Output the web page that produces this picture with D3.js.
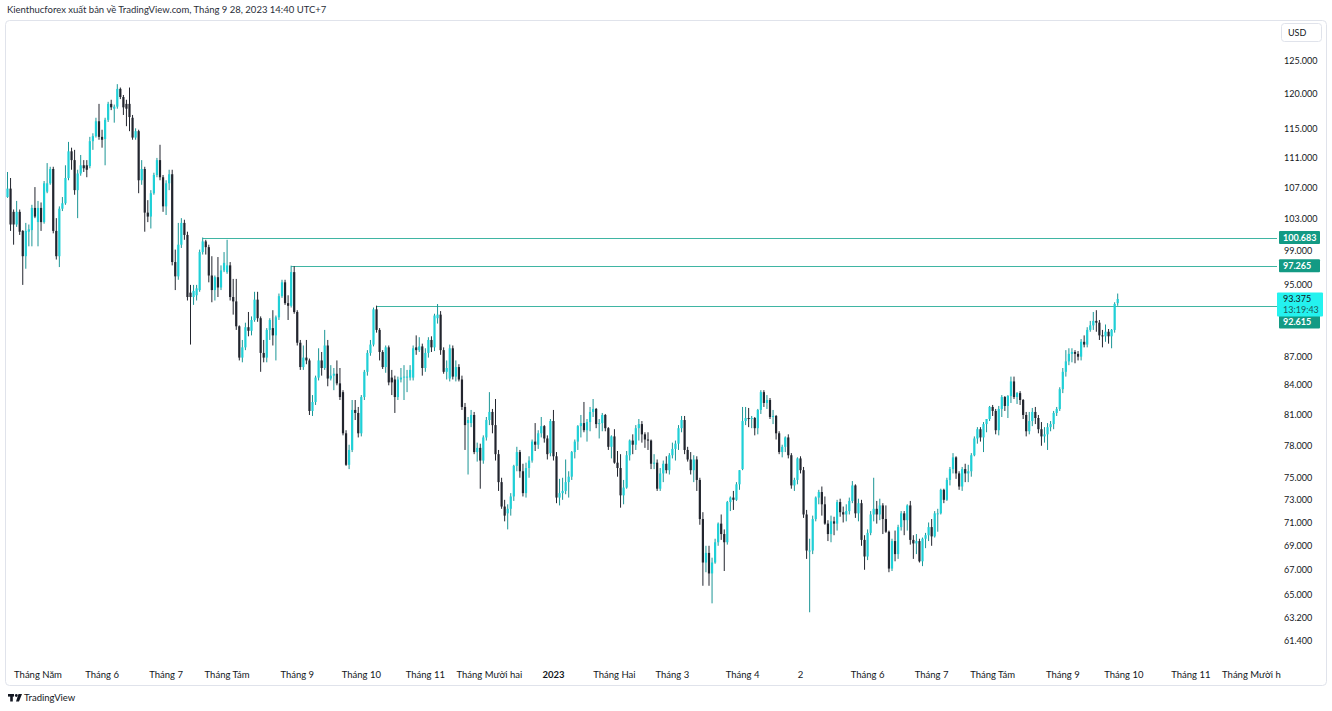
<!DOCTYPE html>
<html><head><meta charset="utf-8">
<script src="https://cdn.jsdelivr.net/npm/d3@7"></script>
<style>
html,body{margin:0;padding:0;background:#fff;}
svg{display:block;font-family:Lato,"Noto Sans",Roboto,sans-serif;}
</style></head>
<body>
<svg id="chart" width="1332" height="711"></svg>
<script>
// ---------- DATA ----------
const title = "Kienthucforex xuất bản về TradingView.com, Tháng 9 28, 2023 14:40 UTC+7";
const startDate = "2022-04-18";
const holidays = ["2022-05-30","2022-06-20","2022-07-04","2022-09-05","2022-11-24","2022-12-26",
  "2023-01-02","2023-01-16","2023-02-20","2023-04-07","2023-05-29","2023-06-19","2023-07-04",
  "2023-09-04","2023-11-23","2023-12-25"];
// daily candles [open, high, low, close]
const candles = [
 // 2022 Apr
 [105.8,109.1,105.7,106.9],[106.9,108.3,101.5,102.3],[103.9,104.2,99.8,102.3],[102.3,105.3,102.0,103.9],
 [103.9,104.2,101.0,101.4],[101.5,101.6,95.0,98.4],[98.4,102.5,96.9,101.5],[101.4,102.3,99.6,101.7],
 [101.6,104.8,99.6,104.4],[104.4,107.1,103.1,103.3],
 // May
 [102.6,105.3,99.6,104.4],[104.4,105.1,101.5,102.6],[102.6,107.9,102.4,107.6],[106.5,110.3,106.3,107.6],
 [107.6,109.8,107.4,109.5],[109.5,109.8,101.2,101.5],[101.5,103.1,98.0,98.4],[98.4,104.6,97.1,104.3],
 [104.3,105.8,104.0,105.0],[105.0,110.0,104.8,108.3],[108.3,113.2,108.0,111.9],[111.9,112.4,109.4,110.7],
 [110.7,112.1,106.1,106.7],[106.7,109.4,103.1,108.9],[108.9,111.4,108.6,110.0],[110.0,110.7,109.1,109.6],
 [110.0,110.7,108.4,109.4],[109.9,113.9,109.6,113.3],[113.3,114.4,112.1,114.0],[114.0,116.6,113.8,116.1],
 [116.1,118.6,113.5,113.9],
 // Jun
 [113.9,114.9,112.4,113.5],[113.6,116.6,110.0,116.3],[116.3,118.9,116.0,118.6],[118.6,119.2,117.7,118.1],
 [117.9,118.5,115.9,118.2],[118.2,121.5,117.9,120.8],[120.8,121.0,119.3,119.6],[119.6,119.9,117.0,118.1],
 [118.6,119.2,115.4,117.9],[118.6,121.0,114.7,116.7],[116.6,117.0,113.5,113.8],[113.8,115.1,113.5,114.7],
 [114.7,114.9,106.3,108.0],[108.0,110.7,107.4,109.5],[109.5,109.8,101.4,103.8],[103.8,105.4,102.6,103.3],
 [103.3,106.7,101.8,106.3],[106.3,109.0,106.1,108.7],[108.7,111.0,108.4,110.7],[110.7,112.8,108.0,108.4],
 [108.4,108.7,103.9,104.6],
 // Jul
 [104.6,108.0,103.5,107.6],[107.6,109.4,106.7,108.8],[108.8,109.4,97.3,97.7],[97.7,99.2,94.4,96.0],
 [96.0,102.5,95.6,99.8],[99.8,103.1,99.4,102.5],[102.5,102.9,100.4,101.0],[101.0,101.4,93.2,93.6],
 [94.1,95.0,88.3,93.6],[93.6,95.0,92.7,94.3],[93.8,95.0,93.2,94.6],[94.4,99.2,94.2,98.9],
 [98.9,100.683,98.6,100.2],[100.2,100.4,98.6,99.5],[99.5,99.8,95.3,96.1],[96.1,98.4,93.0,94.4],
 [94.4,96.1,93.2,95.9],[95.9,98.3,93.6,94.7],[94.7,97.3,94.4,96.7],[96.7,98.9,96.5,97.6],
 // Aug
 [96.5,100.4,96.3,97.3],[97.3,97.7,93.2,93.6],[93.6,95.7,91.6,93.1],[93.1,95.7,89.9,90.3],
 [90.3,90.4,86.6,86.9],[86.9,88.8,86.4,88.0],[88.0,90.7,87.7,90.2],[90.2,91.9,89.2,89.8],
 [89.8,91.4,89.3,91.0],[91.0,94.2,90.8,93.3],[93.3,94.2,90.8,91.2],[91.2,91.4,85.4,87.4],
 [87.4,88.8,86.4,86.9],[86.9,90.1,86.4,89.9],[89.9,91.2,88.8,91.0],[90.1,92.1,88.2,89.3],
 [89.3,91.5,86.6,91.3],[91.3,94.0,91.0,93.7],[93.7,95.6,93.5,95.3],[95.3,95.6,92.7,92.9],
 [92.9,93.8,91.0,92.6],[92.6,97.265,92.4,96.5],[96.5,97.2,91.7,91.9],
 // Sep
 [91.9,92.1,88.2,88.5],[88.5,88.8,85.6,85.9],[85.9,88.2,85.6,86.9],[86.9,88.8,86.2,86.6],
 [86.6,86.8,81.0,81.4],[81.4,83.0,80.9,82.3],[82.3,85.0,82.0,84.8],[84.8,87.9,84.5,86.6],
 [86.6,87.5,85.0,85.8],[85.8,89.9,85.6,88.2],[88.2,88.8,83.9,84.7],[84.7,86.1,84.5,85.0],
 [85.0,85.8,83.5,85.2],[85.2,86.6,84.0,84.2],[84.2,85.8,82.5,82.8],[83.3,83.5,79.0,79.2],
 [79.2,79.5,76.1,76.2],[76.2,78.1,75.8,77.6],[77.6,82.5,77.4,81.5],[81.5,82.5,80.5,81.2],
 [81.2,81.8,78.8,79.2],
 // Oct
 [79.2,83.0,78.9,82.8],[82.8,85.6,82.5,85.4],[85.4,87.7,85.0,87.4],[87.4,88.8,87.1,88.3],
 [88.3,92.4,88.1,92.2],[92.2,92.615,89.6,89.9],[89.9,90.1,86.6,87.5],[87.5,87.7,85.7,85.9],
 [85.9,88.2,85.3,88.0],[88.0,88.2,84.0,84.3],[84.8,85.6,83.0,84.3],[84.6,85.0,81.2,82.8],
 [82.8,84.9,82.5,84.6],[84.6,85.8,84.3,84.8],[84.8,86.1,82.5,84.9],[84.8,85.6,83.3,84.9],
 [84.8,86.1,84.5,85.6],[84.8,88.2,84.5,87.9],[88.0,89.3,87.2,87.7],[87.7,89.1,87.5,88.1],
 [88.1,88.4,85.0,85.8],
 // Nov
 [85.8,87.9,85.4,87.4],[87.4,89.1,86.9,88.8],[88.8,89.2,87.5,88.0],[88.0,91.7,87.6,91.5],
 [91.2,92.8,90.6,91.6],[91.6,92.0,87.2,87.7],[87.7,88.0,85.2,85.4],[85.4,86.6,84.6,85.8],
 [84.7,88.3,84.4,87.9],[87.9,88.2,84.6,84.9],[84.9,86.6,84.4,85.9],[85.9,86.2,84.4,84.6],
 [84.6,85.0,81.5,81.8],[81.8,82.2,77.6,80.0],[80.2,80.8,75.3,80.5],[80.2,81.5,79.8,81.0],
 [81.0,81.3,77.2,77.4],[77.4,78.3,76.5,77.8],[77.8,78.2,74.0,76.6],[76.6,79.0,76.3,78.8],
 [78.8,80.8,78.5,80.5],
 // Dec
 [80.5,83.3,80.0,81.3],[81.3,81.6,79.2,80.0],[80.0,82.6,76.6,77.2],[77.2,77.6,73.8,74.6],
 [74.6,75.0,72.2,72.4],[72.4,73.0,71.1,71.6],[71.8,72.6,70.4,72.2],[72.2,73.6,71.6,73.3],
 [73.3,76.2,72.9,76.1],[76.1,77.9,75.6,77.4],[77.4,77.6,75.0,75.6],[75.6,76.3,73.3,73.6],
 [73.6,76.4,73.2,75.9],[75.9,77.0,75.0,76.6],[76.6,78.6,76.4,78.4],[78.4,80.2,77.5,78.1],
 [78.1,79.5,77.7,79.2],[79.2,80.8,78.8,79.9],[79.9,80.0,78.3,78.7],[78.7,79.0,76.7,77.2],
 [77.3,80.6,77.0,80.4],
 // 2023 Jan
 [80.4,81.5,76.6,77.0],[77.0,77.4,72.7,73.2],[73.2,74.9,72.5,73.6],[73.6,75.0,73.0,73.8],
 [73.8,76.7,73.5,74.6],[74.6,75.6,73.2,75.1],[75.1,77.5,74.8,77.4],[77.4,78.6,76.8,78.4],
 [78.4,80.0,77.6,79.9],[79.9,81.0,78.8,80.2],[80.2,82.3,79.3,79.5],[79.5,80.6,78.4,80.3],
 [80.3,81.8,79.4,81.3],[81.3,82.6,80.8,81.6],[81.6,81.7,79.7,80.1],[80.1,80.6,78.7,80.2],
 [80.2,81.2,79.4,81.0],[81.0,81.1,79.4,79.7],[79.7,79.8,77.6,77.9],[77.9,79.0,76.8,78.9],
 // Feb
 [78.9,79.6,76.3,76.4],[76.4,77.5,75.1,75.9],[75.9,77.2,72.3,73.4],[73.4,74.8,72.6,74.1],
 [74.1,77.5,74.0,77.1],[77.1,78.6,76.6,78.5],[78.5,79.1,77.2,78.1],[78.1,80.0,77.6,79.7],
 [79.7,80.6,78.5,80.1],[80.1,80.4,78.3,79.1],[79.1,79.3,77.8,78.6],[78.6,79.3,77.6,78.5],
 [78.5,78.6,75.8,76.3],[76.3,77.2,75.8,76.4],[76.4,76.7,73.8,74.0],[74.0,75.9,73.8,75.4],
 [75.4,76.6,74.6,76.3],[76.3,77.0,75.4,75.7],[75.7,77.3,75.3,77.1],
 // Mar
 [77.1,78.3,76.8,77.7],[77.7,78.5,76.6,78.2],[78.2,80.0,77.6,79.7],[79.7,80.9,79.3,80.5],
 [80.5,80.9,77.2,77.6],[77.6,77.9,76.5,76.7],[76.7,77.4,75.3,75.7],[75.7,77.1,74.6,76.7],
 [76.7,77.0,73.8,74.8],[74.8,75.0,70.8,71.3],[71.3,71.9,65.7,67.6],[67.6,69.0,66.8,68.4],
 [68.4,69.0,65.7,66.7],[66.7,68.0,64.3,67.6],[67.6,69.6,67.5,69.3],[69.3,71.0,69.0,70.9],
 [70.9,71.7,69.5,70.0],[70.0,70.4,66.9,69.3],[69.3,72.9,69.1,72.8],[72.8,73.3,72.0,73.2],
 [73.2,73.8,72.1,73.0],[73.0,74.6,72.9,74.4],[74.4,75.7,73.9,75.7],
 // Apr
 [75.8,81.8,75.7,80.4],[80.4,81.8,80.0,80.7],[80.7,81.7,79.8,80.6],[80.6,80.9,79.7,80.7],
 [80.7,80.8,79.0,79.7],[79.7,81.6,79.1,81.5],[81.5,83.5,81.1,83.3],[83.3,83.5,81.8,82.2],
 [82.2,83.0,81.6,82.5],[82.5,82.7,80.6,80.8],[80.8,81.5,80.1,80.9],[80.9,81.0,78.6,79.2],
 [79.2,79.4,77.2,77.4],[77.4,78.1,76.9,77.9],[77.9,78.9,77.4,78.8],[78.8,79.1,76.8,77.1],
 [77.1,77.3,74.0,74.3],[74.3,75.0,73.8,74.8],[74.8,76.9,74.4,76.8],
 // May
 [76.8,77.0,75.4,75.7],[75.7,76.0,71.4,71.7],[71.7,72.1,67.9,68.6],[68.6,69.6,63.6,68.6],
 [68.6,71.6,68.3,71.3],[71.3,73.3,71.1,73.2],[73.2,73.9,72.6,73.7],[73.7,74.2,71.6,72.6],
 [72.6,73.3,70.8,70.9],[70.9,71.2,69.4,70.0],[70.0,71.6,69.3,71.1],[71.1,71.5,69.9,70.9],
 [70.9,73.0,70.3,72.8],[72.8,73.1,71.5,71.9],[71.9,72.4,71.0,71.7],[71.7,72.6,71.1,72.0],
 [72.0,73.2,71.7,72.9],[72.9,74.7,72.7,74.3],[74.3,74.4,71.4,71.8],[71.8,73.1,71.1,72.7],
 [72.7,73.0,69.0,69.5],[69.5,69.9,67.0,68.1],
 // Jun
 [68.1,70.4,67.8,70.1],[70.1,72.0,69.9,71.7],[71.7,75.0,71.1,72.2],[72.2,72.9,70.9,71.7],
 [71.7,73.1,71.2,72.5],[72.5,72.7,70.0,71.3],[71.3,72.5,70.1,70.2],[70.2,70.3,66.8,67.1],
 [67.1,69.6,66.9,69.4],[69.4,70.3,67.7,68.3],[68.3,70.8,67.9,70.6],[70.6,72.0,70.3,71.8],
 [71.8,72.0,69.9,71.2],[71.2,72.6,70.3,72.5],[72.5,72.9,69.1,69.5],[69.5,69.9,67.9,69.2],
 [69.2,70.0,68.3,69.4],[69.4,69.6,67.6,67.7],[67.7,69.7,67.3,69.6],[69.6,70.1,68.8,69.9],
 [69.9,71.0,69.4,70.6],
 // Jul
 [70.6,71.3,69.0,69.8],[69.8,72.0,69.7,71.8],[71.8,72.2,70.2,71.8],[71.8,74.0,71.7,73.9],
 [73.9,74.0,72.7,73.0],[73.0,75.0,72.9,74.8],[74.8,76.0,74.3,75.8],[75.8,77.3,75.4,76.9],
 [76.9,77.0,74.9,75.4],[75.4,75.6,73.9,74.2],[74.2,76.0,73.8,75.8],[75.8,76.3,74.6,75.4],
 [75.4,76.2,74.6,75.6],[75.6,77.3,75.1,77.1],[77.1,78.9,77.0,78.7],[78.7,79.8,78.2,79.6],
 [79.6,79.8,78.4,78.8],[78.8,80.3,77.4,80.1],[80.1,80.6,79.3,80.6],[80.6,81.9,80.4,81.8],
 // Aug
 [81.8,82.0,80.9,81.4],[81.4,81.6,79.1,79.5],[79.5,81.9,79.0,81.6],[81.6,83.0,80.8,82.8],
 [82.8,82.9,81.4,81.9],[81.9,83.0,80.7,82.9],[82.9,84.9,82.2,84.4],[84.4,84.9,82.6,82.8],
 [82.8,83.3,82.1,83.2],[83.2,83.4,82.0,82.5],[82.5,82.6,80.6,81.0],[81.0,81.3,78.9,79.4],
 [79.4,81.3,79.1,80.4],[80.4,81.7,79.9,81.3],[81.3,81.8,80.1,80.7],[80.7,81.0,79.2,79.6],
 [79.6,80.3,78.0,78.9],[78.9,79.8,78.3,79.1],[79.1,80.2,77.6,79.8],[79.8,80.4,79.4,80.1],
 [80.1,81.4,79.6,81.2],[81.2,81.8,80.9,81.6],[81.6,83.8,81.4,83.6],
 // Sep
 [83.6,85.8,83.2,85.4],[85.4,87.7,84.9,86.5],[86.5,87.9,86.1,87.3],[87.3,87.9,86.4,87.5],
 [87.5,87.7,86.3,87.3],[87.3,87.6,86.6,87.0],[87.0,88.9,86.6,88.6],[88.6,89.3,88.0,88.3],
 [88.3,90.2,88.0,89.9],[89.9,90.9,89.7,90.4],[90.4,91.9,89.9,90.9],[90.9,92.1,89.7,90.7],
 [90.7,91.0,88.8,89.3],[89.3,89.9,88.0,89.2],[89.2,90.5,88.6,89.7],[89.7,90.0,88.4,89.2],
 [89.2,90.0,87.9,89.9],[89.9,93.0,89.6,92.8],[92.9,94.0,92.6,93.375]
];
const monthLabels = ["Tháng Năm","Tháng 6","Tháng 7","Tháng Tám","Tháng 9","Tháng 10","Tháng 11",
  "Tháng Mười hai","2023","Tháng Hai","Tháng 3","Tháng 4","2","Tháng 6","Tháng 7","Tháng Tám",
  "Tháng 9","Tháng 10","Tháng 11","Tháng Mười hai"];
const boldLabels = ["2023"];
const priceTicks = [125,120,115,111,107,103,99,95,87,84,81,78,75,73,71,69,67,65,63.2,61.4];
const levelValues = [100.683, 97.265, 92.615];
const levelStarts = ["2022-07-20","2022-08-30","2022-10-10"];
const lastPrice = 93.375;
const countdown = "13:19:43";
const currency = "USD";

// ---------- CALENDAR ----------
const fmt = d3.utcFormat("%Y-%m-%d");
const hol = new Set(holidays);
const days = [];
for (let d = new Date(startDate + "T00:00:00Z"); days.length < 440; d = d3.utcDay.offset(d, 1)) {
  const wd = d.getUTCDay();
  if (wd === 0 || wd === 6 || hol.has(fmt(d))) continue;
  days.push(new Date(d));
}
const idxOf = s => days.findIndex(d => fmt(d) === s);

// ---------- LAYOUT ----------
const W = 1332, H = 711;
const plotL = 5, plotR = 1277, plotT = 21, plotB = 660;
const svg = d3.select("#chart");
const x = d3.scaleLinear().domain([0, 1]).range([7.5, 10.55]);
const y = d3.scaleLog().domain([61.4, 125]).range([641, 61]);

svg.append("rect").attr("width", W).attr("height", H).attr("fill", "#fff");
svg.append("text").attr("x", 7).attr("y", 13).attr("font-size", 9.5).attr("fill", "#2a2e39").text(title);
svg.append("rect").attr("x", 5.5).attr("y", 20.5).attr("width", 1321).attr("height", 665)
  .attr("rx", 4).attr("fill", "none").attr("stroke", "#e0e3eb");

const defs = svg.append("defs");
defs.append("clipPath").attr("id", "plotclip").append("rect")
  .attr("x", plotL + 1).attr("y", plotT).attr("width", plotR - plotL - 1).attr("height", plotB - plotT);
defs.append("clipPath").attr("id", "axisclip").append("rect")
  .attr("x", plotL + 1).attr("y", 660).attr("width", plotR - plotL + 3).attr("height", 25);

const plot = svg.append("g").attr("clip-path", "url(#plotclip)");

// level lines
levelValues.forEach((v, k) => {
  const yy = Math.round(y(v)) + 0.5;
  plot.append("line").attr("x1", x(idxOf(levelStarts[k]))).attr("x2", plotR)
    .attr("y1", yy).attr("y2", yy).attr("stroke", "#3fb5a3").attr("stroke-width", 1);
});

// candles
const upBody = "#1fd0d7", upWick = "#1b9696", dnBody = "#22252e", dnWick = "#22252e";
const g = plot.append("g");
candles.forEach((c, i) => {
  const [o, h, l, cl] = c, up = cl >= o, cx = x(i);
  g.append("line").attr("x1", cx).attr("x2", cx).attr("y1", y(h)).attr("y2", y(l))
    .attr("stroke", up ? upWick : dnWick).attr("stroke-width", 1);
  const yt = y(Math.max(o, cl)), yb = y(Math.min(o, cl));
  g.append("rect").attr("x", cx - 1.1).attr("width", 2.2)
    .attr("y", yt).attr("height", Math.max(1, yb - yt)).attr("fill", up ? upBody : dnBody);
});

// price axis
const fmt3 = d3.format(".3f");
svg.append("g").selectAll("text").data(priceTicks).join("text")
  .attr("x", 1284).attr("y", d => y(d)).attr("dy", "0.35em")
  .attr("font-size", 9).attr("fill", "#131722").text(d => fmt3(d));

// USD box
svg.append("rect").attr("x", 1281.5).attr("y", 23.5).attr("width", 40).attr("height", 18)
  .attr("rx", 3).attr("fill", "#fff").attr("stroke", "#e0e3eb");
svg.append("text").attr("x", 1288).attr("y", 32.5).attr("dy", "0.35em").attr("font-size", 9)
  .attr("fill", "#131722").text(currency);

// level labels
const labelPos = [y(levelValues[0]), y(levelValues[1]), y(lastPrice) + 23];
levelValues.forEach((v, k) => {
  const cy = labelPos[k];
  svg.append("rect").attr("x", 1279).attr("y", cy - 6.5).attr("width", 41).attr("height", 13)
    .attr("rx", 1).attr("fill", "#139a84");
  svg.append("text").attr("x", 1283).attr("y", cy).attr("dy", "0.36em").attr("font-size", 9)
    .attr("font-weight", 700).attr("fill", "#fff").text(fmt3(v));
});
// last price label
const ly = y(lastPrice);
svg.append("rect").attr("x", 1277).attr("y", ly - 6.5).attr("width", 46).attr("height", 24)
  .attr("rx", 1).attr("fill", "#24f2ef");
svg.append("text").attr("x", 1283).attr("y", ly).attr("dy", "0.36em").attr("font-size", 9)
  .attr("fill", "#131722").text(fmt3(lastPrice));
svg.append("text").attr("x", 1283).attr("y", ly + 11).attr("dy", "0.36em").attr("font-size", 9)
  .attr("fill", "#1d5c5c").text(countdown);

// time axis
const monthStarts = [];
days.forEach((d, i) => {
  if (i > 0 && d.getUTCMonth() !== days[i - 1].getUTCMonth()) monthStarts.push(i);
});
const ax = svg.append("g").attr("clip-path", "url(#axisclip)");
ax.selectAll("text").data(monthStarts.slice(0, monthLabels.length)).join("text")
  .attr("x", d => x(d)).attr("y", 675).attr("dy", "0.35em").attr("text-anchor", "middle")
  .attr("font-size", 9.5).attr("fill", "#131722")
  .attr("font-weight", (d, i) => boldLabels.includes(monthLabels[i]) ? 700 : 400)
  .text((d, i) => monthLabels[i]);

// TradingView footer
const logo = svg.append("g").attr("transform", "translate(8,694)").attr("fill", "#131722");
logo.append("rect").attr("x", 0).attr("y", 0).attr("width", 6).attr("height", 2.6);
logo.append("rect").attr("x", 2.2).attr("y", 0).attr("width", 2.6).attr("height", 7.5);
logo.append("circle").attr("cx", 8.3).attr("cy", 1.5).attr("r", 1.4);
logo.append("path").attr("d", "M10.5,0 L14,0 L11,7.5 L8,7.5 Z");
svg.append("text").attr("x", 24).attr("y", 698).attr("dy", "0.35em").attr("font-size", 9.5)
  .attr("fill", "#131722").text("TradingView");
</script>
</body></html>
